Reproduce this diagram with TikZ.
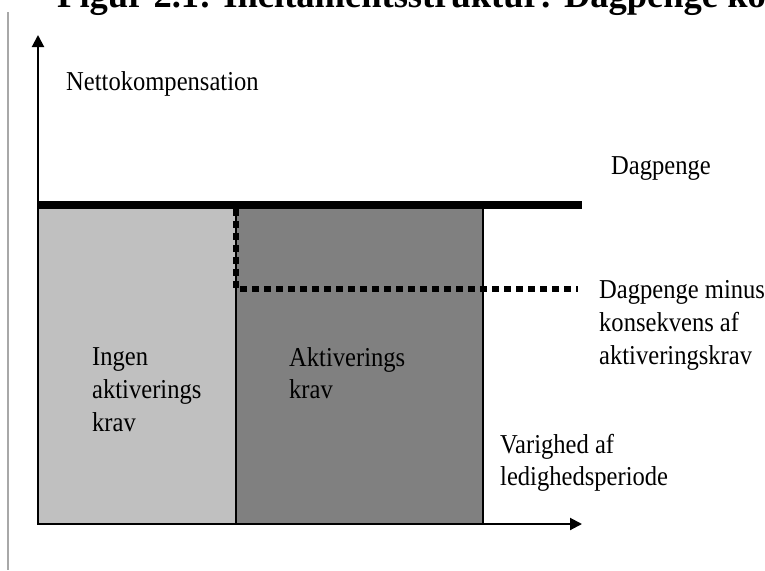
\documentclass[tikz,border=0pt]{standalone}
\usepackage{fontspec}
\setmainfont{Liberation Serif}
\newfontfamily\tallserif[FakeStretch=0.9]{Liberation Serif}
\usetikzlibrary{arrows.meta}
\definecolor{lightbar}{HTML}{C0C0C0}
\definecolor{darkbar}{HTML}{808080}
\definecolor{pageline}{HTML}{A8A8A8}
\tikzset{
  lbl/.style={anchor=base west, inner sep=0pt, align=left, font=\tallserif\fontsize{27.3}{32.6}\selectfont},
  axis/.style={line width=2pt, -{Triangle[length=12pt,width=12pt]}},
  region/.style={draw=black, line width=1.6pt},
  dotline/.style={line width=6pt, dash pattern=on 7pt off 5pt},
}
\begin{document}
\begin{tikzpicture}[x=1pt,y=-1pt]
\clip (0,0) rectangle (765,570);
\useasboundingbox (0,0) rectangle (765,570);
% page border line
\draw[pageline, line width=1.5pt] (8,12) -- (8,570);
% title (cut off at the top)
\node[anchor=base west, inner sep=0pt, font=\fontsize{36.5}{40}\selectfont\bfseries] (title) at (57,8) {Figur 2.1: Incitamentsstruktur: Dagpenge kon};
% coordinates
\coordinate (origin) at (38,524);
\coordinate (ytip) at (38,35);
\coordinate (xtip) at (582,524);
\coordinate (topL) at (38,205);
\coordinate (topR) at (582,205);
\coordinate (dashTop) at (236,209);
\coordinate (dashEnd) at (578,289);
% regions
\path[region, fill=lightbar] (38,205) rectangle (236,524);
\path[region, fill=darkbar] (236,205) rectangle (483,524);
% axes
\draw[axis] (origin) -- (ytip);
\draw[axis] (origin) -- (xtip);
% dagpenge line
\draw[line width=8pt] (topL) -- (topR);
% dashed line
\draw[dotline] (dashTop) |- (dashEnd);
% labels (anchored at the baseline of the last line)
\node[lbl] (ylab) at (66,90) {Nettokompensation};
\node[lbl] (dp) at (611,174) {Dagpenge};
\node[lbl] (dpm) at (599,364) {Dagpenge minus\\konsekvens af\\aktiveringskrav};
\node[lbl] (ingen) at (92,431) {Ingen\\aktiverings\\krav};
\node[lbl] (akt) at (289,398.6) {Aktiverings\\krav};
\node[lbl] (xlab) at (500,485.6) {Varighed af\\ledighedsperiode};
\end{tikzpicture}
\end{document}
